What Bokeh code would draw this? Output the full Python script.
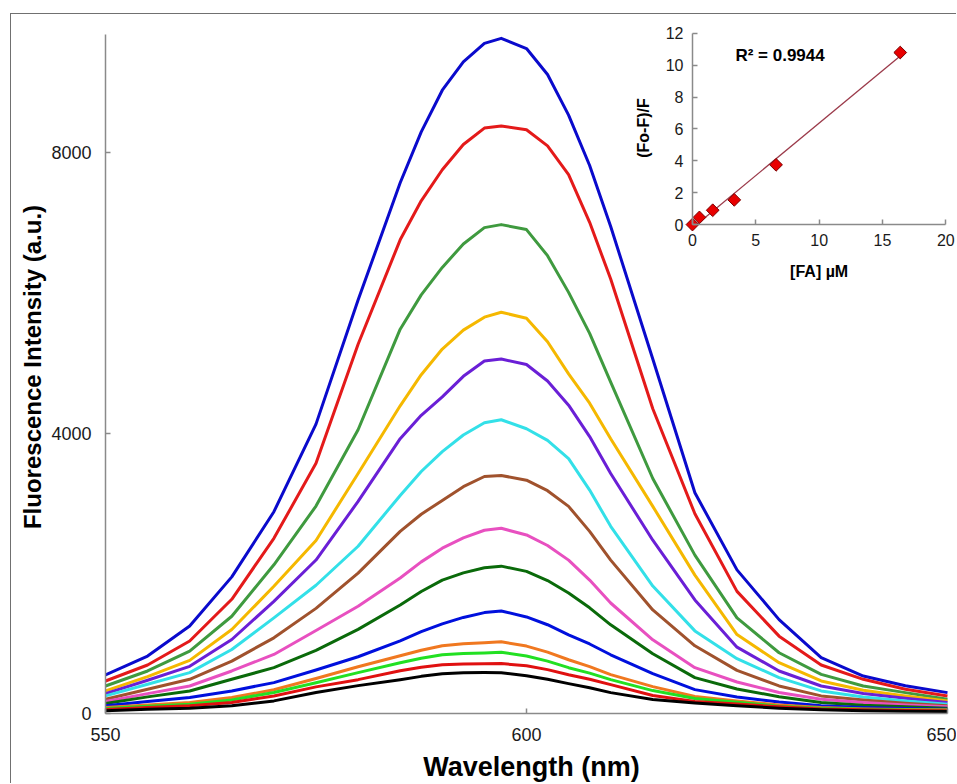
import numpy as np
from bokeh.plotting import figure
from bokeh.models import Range1d, LinearAxis, FixedTicker, Label
from bokeh.embed import file_html
from bokeh.resources import INLINE

# ---------------- data ----------------
wavelength = [550, 555, 560, 565, 570, 575, 580, 585, 587.5, 590, 592.5, 595, 597,
              600, 602.5, 605, 607.5, 610, 615, 620, 625, 630, 635, 640, 645, 650]

s01_blue = [550, 820, 1250, 1950, 2880, 4130, 5900, 7574, 8300, 8895, 9300, 9563, 9635,
            9490, 9120, 8540, 7820, 6950, 5060, 3150, 2050, 1340, 796, 535, 395, 298]
s02_red = [464, 692, 1035, 1630, 2500, 3570, 5270, 6760, 7317, 7760, 8120, 8355, 8384,
           8330, 8100, 7690, 7010, 6200, 4350, 2850, 1743, 1104, 692, 488, 346, 251]
s03_green = [393, 607, 891, 1388, 2122, 2960, 4050, 5485, 5974, 6366, 6701, 6934, 6977,
             6906, 6534, 6010, 5424, 4730, 3354, 2260, 1364, 867, 559, 393, 298, 204]
s04_gold = [322, 526, 758, 1198, 1815, 2470, 3425, 4391, 4835, 5201, 5471, 5656, 5727,
            5640, 5305, 4846, 4428, 3920, 2956, 1975, 1127, 725, 464, 332, 251, 180]
s05_purple = [284, 474, 673, 1056, 1601, 2190, 3027, 3922, 4256, 4519, 4812, 5030, 5059,
              4980, 4745, 4400, 3952, 3425, 2473, 1620, 947, 606, 393, 284, 218, 156]
s06_cyan = [251, 417, 583, 914, 1364, 1830, 2387, 3112, 3454, 3737, 3974, 4149, 4192,
            4064, 3897, 3638, 3188, 2671, 1819, 1179, 782, 512, 322, 237, 180, 133]
s07_brown = [204, 346, 488, 748, 1080, 1500, 2004, 2600, 2844, 3041, 3237, 3382, 3396,
             3330, 3180, 2956, 2599, 2189, 1478, 966, 616, 393, 251, 194, 147, 109]
s08_pink = [171, 284, 393, 607, 843, 1185, 1530, 1933, 2164, 2359, 2506, 2615, 2643,
            2548, 2398, 2189, 1904, 1577, 1052, 654, 450, 300, 204, 156, 123, 95]
s09_darkgreen = [142, 237, 322, 488, 654, 900, 1200, 1549, 1741, 1904, 2007, 2080, 2103,
                 2028, 1897, 1719, 1508, 1265, 853, 512, 350, 240, 156, 118, 95, 76]
s10_blue = [109, 171, 227, 322, 441, 620, 810, 1037, 1168, 1279, 1371, 1440, 1464,
            1378, 1267, 1123, 992, 838, 568, 341, 235, 165, 109, 85, 71, 62]
s11_orange = [85, 123, 156, 227, 340, 500, 668, 824, 902, 966, 996, 1010, 1023,
              962, 876, 767, 669, 554, 384, 242, 180, 123, 85, 66, 57, 52]
s12_lime = [71, 104, 133, 194, 300, 440, 583, 725, 788, 838, 858, 865, 875,
            820, 747, 654, 576, 483, 327, 213, 160, 105, 75, 60, 50, 45]
s13_red = [57, 85, 109, 156, 250, 380, 483, 611, 659, 696, 708, 710, 712,
           682, 626, 554, 489, 412, 256, 171, 135, 95, 66, 52, 43, 38]
s14_black = [38, 62, 76, 109, 180, 300, 398, 483, 530, 568, 581, 585, 583,
             540, 489, 426, 367, 298, 199, 150, 110, 75, 52, 40, 32, 28]

series = [s01_blue, s02_red, s03_green, s04_gold, s05_purple, s06_cyan, s07_brown,
          s08_pink, s09_darkgreen, s10_blue, s11_orange, s12_lime, s13_red, s14_black]
colors = ["#0a0acc", "#e41a1a", "#3f9a3f", "#f5b800", "#6a1fd6", "#33e0e8", "#a0522d",
          "#e850c0", "#0a6a0a", "#0010dd", "#f07820", "#22e022", "#e01010", "#000000"]

x_ticks = [550, 600, 650]
y_ticks = [0, 4000, 8000]

# inset: Stern-Volmer plot
fa_conc = [0.0, 0.55, 1.6, 3.3, 6.6, 16.4]
fo_f_ratio = [0.0, 0.45, 0.9, 1.55, 3.75, 10.8]
inset_x_ticks = [0, 5, 10, 15, 20]
inset_y_ticks = [0, 2, 4, 6, 8, 10, 12]
r2_text = "R\u00b2 = 0.9944"

FONT = "Liberation Sans"
AX = "#8a8a8a"

p = figure(width=946, height=770, output_backend="svg", toolbar_location=None,
           x_range=Range1d(550, 651.19), y_range=Range1d(0, 9890),
           x_axis_type=None, y_axis_type=None,
           min_border_left=94, min_border_right=0, min_border_top=6, min_border_bottom=68,
           margin=(13, 0, 0, 10),
           styles={"border-left": "1px solid #707070", "border-top": "1px solid #707070"})
p.outline_line_color = None
p.background_fill_color = "white"
p.border_fill_color = "white"


def style(ax, label_size="18px", tick_size="18px"):
    ax.axis_line_color = AX
    ax.axis_line_width = 1.5
    ax.major_tick_line_color = AX
    ax.major_tick_line_width = 1.5
    ax.major_tick_in = 5
    ax.major_tick_out = 0
    ax.minor_tick_line_color = None
    ax.major_label_text_font = FONT
    ax.major_label_text_font_size = tick_size
    ax.major_label_text_color = "#1a1a1a"
    ax.axis_label_text_font = FONT
    ax.axis_label_text_font_size = label_size
    ax.axis_label_text_font_style = "bold"
    ax.axis_label_text_color = "#000000"


xa = LinearAxis(ticker=FixedTicker(ticks=x_ticks), axis_label="Wavelength (nm)", bounds=(550, 650))
style(xa, label_size="27px")
xa.major_label_standoff = 14
xa.axis_label_standoff = 8
p.add_layout(xa, "below")

ya = LinearAxis(ticker=FixedTicker(ticks=y_ticks), axis_label="Fluorescence Intensity (a.u.)",
                bounds=(0, 9690))
style(ya, label_size="24px")
ya.major_label_standoff = 14
ya.axis_label_standoff = 2
p.add_layout(ya, "left")

for vals, c in zip(series, colors):
    p.line(wavelength, vals, line_color=c, line_width=3, line_join="round")

# ---------- inset on extra ranges ----------
p.extra_x_ranges = {"ix": Range1d(-46.33, 20.92)}
p.extra_y_ranges = {"iy": Range1d(-30.69, 12.81)}

iax = LinearAxis(x_range_name="ix", y_range_name="iy", fixed_location=0, bounds=(0, 20),
                 ticker=FixedTicker(ticks=inset_x_ticks))
style(iax, tick_size="16px")
iax.major_label_standoff = 9
p.add_layout(iax, "below")

iay = LinearAxis(x_range_name="ix", y_range_name="iy", fixed_location=0, bounds=(0, 12),
                 ticker=FixedTicker(ticks=inset_y_ticks))
style(iay, tick_size="16px")
iay.major_label_standoff = 9
p.add_layout(iay, "left")

slope, intercept = np.polyfit(fa_conc, fo_f_ratio, 1)
fit_x = [min(fa_conc), max(fa_conc)]
fit_y = [slope * v + intercept for v in fit_x]
p.line(fit_x, fit_y, x_range_name="ix", y_range_name="iy", line_color="#9b3a4a", line_width=1.3)
p.scatter(fa_conc, fo_f_ratio, x_range_name="ix", y_range_name="iy", marker="square",
          angle=np.pi / 4, size=9, fill_color="#e80000", line_color="#7a0000", line_width=1)

p.add_layout(Label(x=3.39, y=10.63, x_range_name="ix", y_range_name="iy", text=r2_text,
                   text_font=FONT, text_font_size="17px", text_font_style="bold",
                   text_align="left", text_baseline="middle", text_color="#000000"))
p.add_layout(Label(x=10, y=-2.94, x_range_name="ix", y_range_name="iy", text="[FA] \u00b5M",
                   text_font=FONT, text_font_size="16px", text_font_style="bold",
                   text_align="center", text_baseline="middle", text_color="#000000"))
p.add_layout(Label(x=-3.87, y=6.06, x_range_name="ix", y_range_name="iy", text="(Fo-F)/F",
                   angle=np.pi / 2, text_font=FONT, text_font_size="16px", text_font_style="bold",
                   text_align="center", text_baseline="middle", text_color="#000000"))

open("out.html", "w").write(file_html(p, INLINE))
